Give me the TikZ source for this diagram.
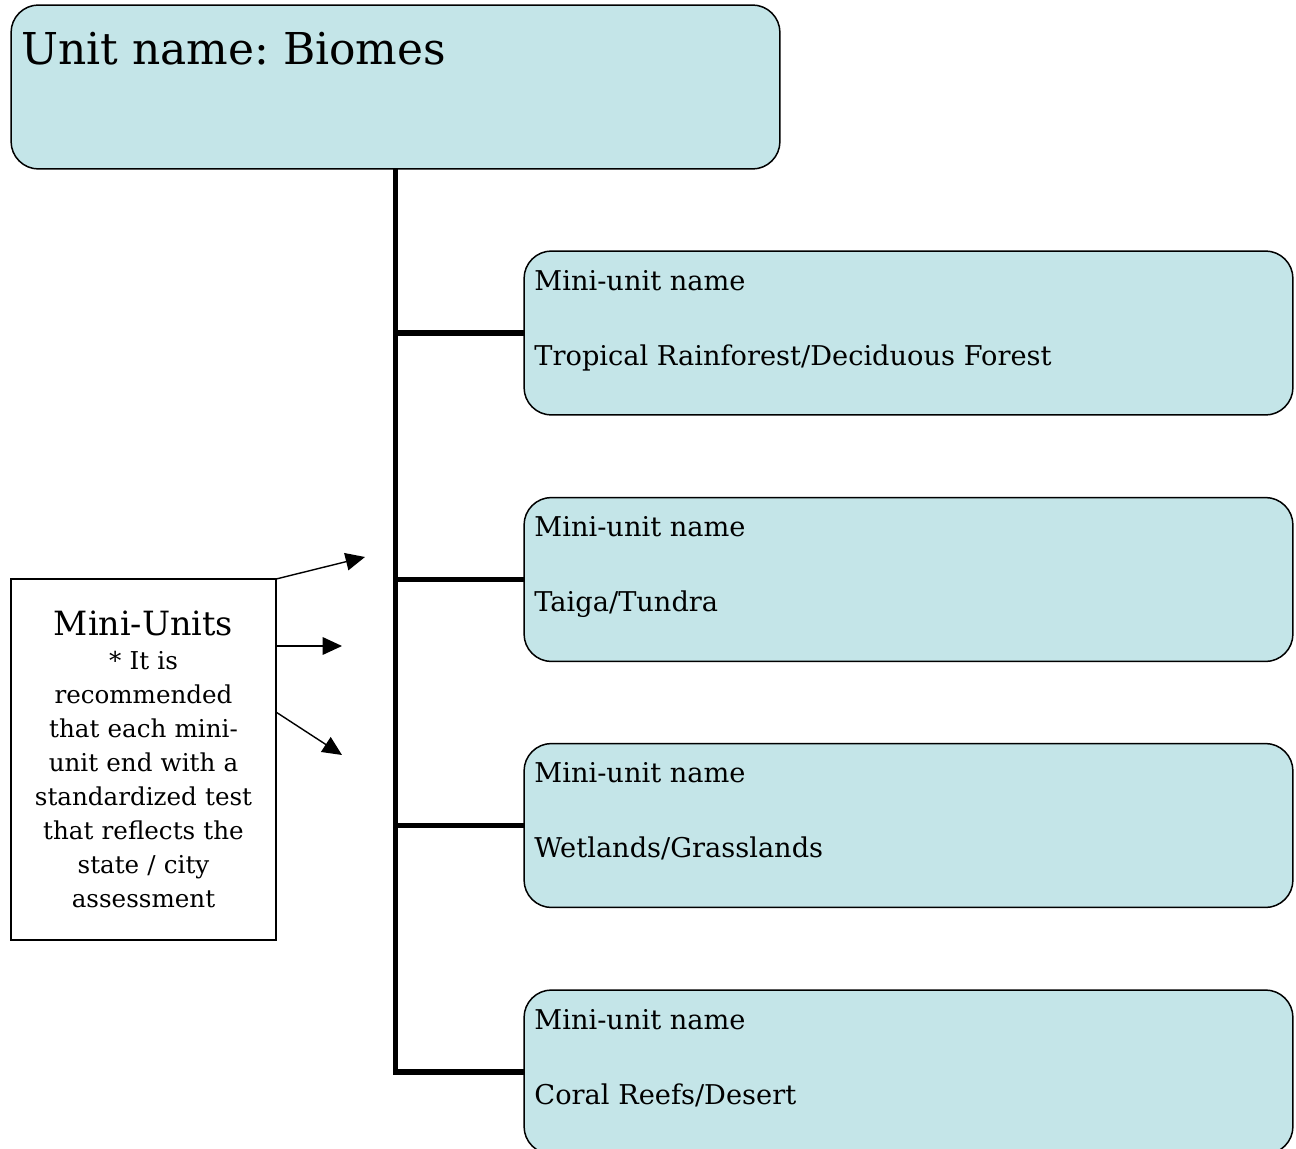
\documentclass[tikz,border=0pt]{standalone}
\usepackage{fontspec}
\setmainfont{DejaVu Serif}
\frenchspacing
\usetikzlibrary{arrows.meta,positioning}
\definecolor{boxcyan}{RGB}{196,229,232}

\begin{document}
\begin{tikzpicture}[x=0.02cm,y=-0.02cm,rbox/.style={draw=black,line width=0.85pt,fill=boxcyan,rounded corners=0.55cm,minimum width=15.38cm,minimum height=3.28cm,inner sep=0pt,outer sep=0pt},mtxt/.style={anchor=base west,inner sep=0pt,font=\fontsize{15.5}{18}\selectfont},note/.style={draw=black,line width=0.7pt,fill=white,minimum width=5.3cm,minimum height=7.22cm,text width=5cm,align=center,inner sep=0pt,outer sep=0pt,font=\fontsize{14}{19.4}\selectfont},trunk/.style={line width=3pt},arr/.style={-{Triangle[length=11pt,width=10pt]},line width=0.8pt}]
\useasboundingbox (0,0) rectangle (1296,1149);
% main unit box
\node[rbox] (unit) at (395.5,87) {};
\node[anchor=base west,inner sep=0pt,font=\fontsize{25}{30}\selectfont] (title) at (21,65) {Unit name: Biomes};
% mini-unit boxes
\node[rbox] (m1) at (908.5,333) {};
\node[rbox] (m2) at (908.5,579.5) {};
\node[rbox] (m3) at (908.5,825.5) {};
\node[rbox] (m4) at (908.5,1072) {};
\node[mtxt] (n1) at ([shift={(10,-43)}]m1.west) {Mini-unit name};
\node[mtxt] (t1) at ([shift={(10,32)}]m1.west) {Tropical Rainforest/Deciduous Forest};
\node[mtxt] (n2) at ([shift={(10,-43)}]m2.west) {Mini-unit name};
\node[mtxt] (t2) at ([shift={(10,32)}]m2.west) {Taiga/Tundra};
\node[mtxt] (n3) at ([shift={(10,-43)}]m3.west) {Mini-unit name};
\node[mtxt] (t3) at ([shift={(10,32)}]m3.west) {Wetlands/Grasslands};
\node[mtxt] (n4) at ([shift={(10,-43)}]m4.west) {Mini-unit name};
\node[mtxt] (t4) at ([shift={(10,32)}]m4.west) {Coral Reefs/Desert};
% tree lines
\draw[trunk] (unit.south) -- (unit.south |- m4.west) -- (m4.west);
\draw[trunk] (unit.south |- m1.west) -- (m1.west);
\draw[trunk] (unit.south |- m2.west) -- (m2.west);
\draw[trunk] (unit.south |- m3.west) -- (m3.west);
% side note
\node[note] (note) at (143.5,759.5) {{\fontsize{19}{22}\selectfont Mini-Units}\\{}* It is\\recommended\\that each mini-\\unit end with a\\standardized test\\that reflects the\\state / city\\assessment};
\coordinate (h1) at (365,557);
\coordinate (h2) at (342,646);
\coordinate (h3) at (342,755);
\draw[arr] (note.north east) -- (h1);
\draw[arr] (note.east |- h2) -- (h2);
\draw[arr] ([shift={(0,133)}]note.north east) -- (h3);
\end{tikzpicture}
\end{document}
